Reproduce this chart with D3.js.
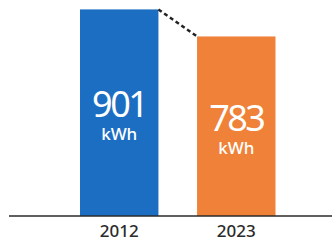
<!DOCTYPE html>
<html>
<head>
<meta charset="utf-8">
<script src="https://cdn.jsdelivr.net/npm/d3@7"></script>
<style>
  body { margin: 0; background: #fff; }
  text { font-family: "Noto Sans", "Open Sans", sans-serif; }
</style>
</head>
<body>
<script>
'use strict';

// chart data
const years = ["2012", "2023"];
const values = [901, 783];
const unit = "kWh";
const colors = ["#1b6ec2", "#ef8139"];

const width = 332, height = 244;
const baseY = 216;

const svg = d3.select('body')
  .append('svg')
  .attr('width', width)
  .attr('height', height);

// scales
let xScale = d3.scaleBand()
  .domain(years)
  .range([80, 275.5])
  .paddingInner(0.33)
  .paddingOuter(0);

let yScale = d3.scaleLinear()
  .domain([0, 942])
  .range([baseY, 0]);

// bars
svg.selectAll('.bar')
  .data(values)
  .enter()
  .append('rect')
  .attr('class', 'bar')
  .attr('x', (d, i) => xScale(years[i]))
  .attr('y', d => yScale(d))
  .attr('width', xScale.bandwidth())
  .attr('height', d => baseY - yScale(d))
  .attr('fill', (d, i) => colors[i]);

// dashed connector between bar tops
svg.append('line')
  .attr('x1', xScale(years[0]) + xScale.bandwidth())
  .attr('y1', yScale(values[0]))
  .attr('x2', xScale(years[1]))
  .attr('y2', yScale(values[1]))
  .attr('stroke', '#222')
  .attr('stroke-width', 2.5)
  .attr('stroke-dasharray', '4,3');

// value labels inside bars
values.forEach((v, i) => {
  let cx = xScale(years[i]) + xScale.bandwidth() / 2;
  let mid = (yScale(v) + baseY) / 2;
  svg.append('text')
    .attr('x', cx)
    .attr('y', mid + 4.5)
    .attr('text-anchor', 'middle')
    .attr('fill', '#fff')
    .style('font-size', '36px')
    .style('letter-spacing', '-2.5px')
    .text(v);
  svg.append('text')
    .attr('x', cx)
    .attr('y', mid + 27.5)
    .attr('text-anchor', 'middle')
    .attr('fill', '#fff')
    .style('font-size', '17px')
    .style('font-weight', 500)
    .text(unit);
});

// baseline axis
let xAxis = d3.axisBottom(xScale).tickSize(0).tickPadding(9);
let axisG = svg.append('g')
  .attr('transform', `translate(0, ${baseY})`)
  .call(xAxis);
axisG.select('.domain').remove();
axisG.selectAll('text')
  .style('font-size', '17px')
  .style('font-weight', 500)
  .style('font-family', '"Noto Sans", "Open Sans", sans-serif')
  .attr('fill', '#2b2b2b');

svg.append('line')
  .attr('x1', 9)
  .attr('x2', width)
  .attr('y1', baseY)
  .attr('y2', baseY)
  .attr('stroke', '#2b2b2b')
  .attr('stroke-width', 1.5);
</script>
</body>
</html>
